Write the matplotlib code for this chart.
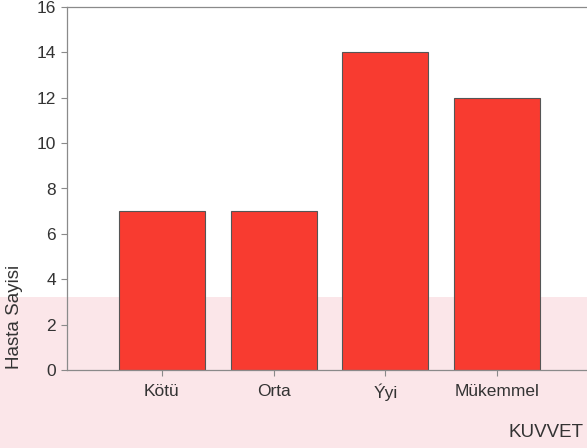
import matplotlib.pyplot as plt
from matplotlib.patches import Rectangle

categories = ["Kötü", "Orta", "Ýyi", "Mükemmel"]
counts = [7, 7, 14, 12]
y_ticks = [0, 2, 4, 6, 8, 10, 12, 14, 16]

plt.rcParams['font.family'] = ['Liberation Sans', 'DejaVu Sans']

W, H = 587, 448
fig = plt.figure(figsize=(W / 100, H / 100), dpi=100)

# faint watermark band behind the lower part of the scan
band_top = (H - 297) / H
fig.patches.append(Rectangle((0, 0), 1, band_top, transform=fig.transFigure,
                             facecolor='#fbe6e9', edgecolor='none', zorder=-5))

# axes runs a little past the right edge, as in the scanned page
left, right, top, bottom = 67, 592, 7, 370
ax = fig.add_axes([left / W, (H - bottom) / H, (right - left) / W, (bottom - top) / H])
ax.patch.set_alpha(0)
ax.set_zorder(1)

x = range(len(categories))
ax.bar(x, counts, width=0.77, color='#f83b30', edgecolor='#555555', linewidth=0.8, zorder=2)

ax.set_xlim(-0.848, len(categories) - 1 + 0.848)
ax.set_ylim(0, 16)
ax.set_yticks(y_ticks)
ax.set_xticks(list(x))
ax.set_xticklabels(categories)

for s in ax.spines.values():
    s.set_color('#8a8a8a')
    s.set_linewidth(0.9)
ax.tick_params(colors='#8a8a8a', labelcolor='#333333', labelsize=12.5, length=4, width=0.8)
ax.tick_params(axis='x', pad=6)
ax.tick_params(axis='y', pad=4)

fig.text(15 / W, (H - 317) / H, "Hasta Sayisi", rotation=90, ha='center', va='center',
         fontsize=13.5, color='#333333')
fig.text(583 / W, (H - 432) / H, "KUVVET", ha='right', va='center',
         fontsize=13.5, color='#333333')

fig.savefig("out.png", dpi=100)
